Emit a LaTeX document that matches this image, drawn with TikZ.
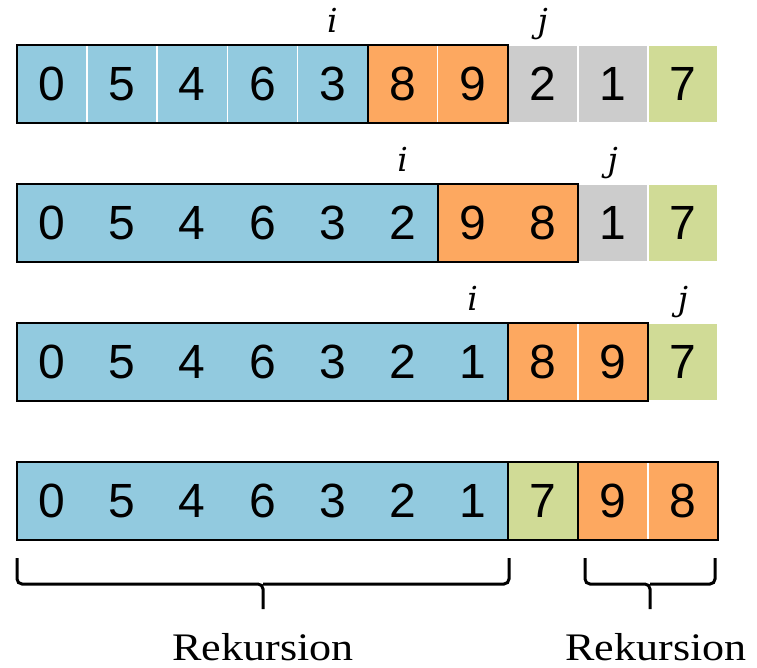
\documentclass[tikz,border=0pt]{standalone}
\usepackage{fontspec}
\newfontfamily\digitfont{Liberation Sans}
\newfontfamily\ptrfont{DejaVu Serif}
\newfontfamily\labelfont{Liberation Serif}
\definecolor{cbl}{RGB}{146,202,223}
\definecolor{cor}{RGB}{253,168,96}
\definecolor{cgr}{RGB}{204,204,204}
\definecolor{cgn}{RGB}{208,219,150}
\begin{document}
\begin{tikzpicture}[x=1pt,y=-1pt,
  cell/.style={rectangle,minimum width=70.1pt,minimum height=78pt,inner sep=0pt,
    outer sep=0pt,line width=1.6pt,font=\digitfont\fontsize{48}{48}\selectfont},
  frame/.style={draw=black,line width=2pt},
  ptr/.style={anchor=base,inner sep=0pt,font=\ptrfont\itshape\fontsize{33}{33}\selectfont},
  bracepath/.style={draw=black,line width=3pt,rounded corners=5pt},
  reclabel/.style={anchor=base,inner sep=0pt,font=\labelfont\fontsize{39}{39}\selectfont}]
\useasboundingbox (0,0) rectangle (757,667);

% row 1
\foreach \v/\c/\d [count=\k] in {0/cbl/white,5/cbl/white,4/cbl/white,6/cbl/white,3/cbl/white,
  8/cor/white,9/cor/white,2/cgr/white,1/cgr/white,7/cgn/white}
  \node[cell,fill=\c,draw=\d] (r1c\k) at ({17+(\k-0.5)*70.1},84) {\v};
\draw[frame] (r1c1.north west) rectangle (r1c5.south east);
\draw[frame] (r1c6.north west) rectangle (r1c7.south east);
\node[ptr] (i1) at (r1c5.north) [yshift=13pt] {i};
\node[ptr] (j1) at (r1c8.north) [yshift=13pt] {j};

% row 2
\foreach \v/\c/\d [count=\k] in {0/cbl/none,5/cbl/none,4/cbl/none,6/cbl/none,3/cbl/none,
  2/cbl/none,9/cor/none,8/cor/none,1/cgr/white,7/cgn/white}
  \node[cell,fill=\c,draw=\d] (r2c\k) at ({17+(\k-0.5)*70.1},223) {\v};
\draw[frame] (r2c1.north west) rectangle (r2c6.south east);
\draw[frame] (r2c7.north west) rectangle (r2c8.south east);
\node[ptr] (i2) at (r2c6.north) [yshift=13pt] {i};
\node[ptr] (j2) at (r2c9.north) [yshift=13pt] {j};

% row 3
\foreach \v/\c/\d [count=\k] in {0/cbl/none,5/cbl/none,4/cbl/none,6/cbl/none,3/cbl/none,
  2/cbl/none,1/cbl/none,8/cor/white,9/cor/white,7/cgn/white}
  \node[cell,fill=\c,draw=\d] (r3c\k) at ({17+(\k-0.5)*70.1},362) {\v};
\draw[frame] (r3c1.north west) rectangle (r3c7.south east);
\draw[frame] (r3c8.north west) rectangle (r3c9.south east);
\node[ptr] (i3) at (r3c7.north) [yshift=13pt] {i};
\node[ptr] (j3) at (r3c10.north) [yshift=13pt] {j};

% row 4
\foreach \v/\c/\d [count=\k] in {0/cbl/none,5/cbl/none,4/cbl/none,6/cbl/none,3/cbl/none,
  2/cbl/none,1/cbl/none,7/cgn/none,9/cor/white,8/cor/white}
  \node[cell,fill=\c,draw=\d] (r4c\k) at ({17+(\k-0.5)*70.1},501) {\v};
\draw[frame] (r4c1.north west) rectangle (r4c7.south east);
\draw[frame] (r4c8.north west) rectangle (r4c8.south east);
\draw[frame] (r4c9.north west) rectangle (r4c10.south east);

% braces under the two sub-arrays
\draw[bracepath] (17,558) -- (17,584) -- (263,584) -- (263,609);
\draw[bracepath] (509,558) -- (509,584) -- (263,584);
\draw[bracepath] (585,558) -- (585,584) -- (650,584) -- (650,609);
\draw[bracepath] (715,558) -- (715,584) -- (650,584);

\node[reclabel] (rec1) at (263,660) {\scalebox{1.13}[1]{Rekursion}};
\node[reclabel] (rec2) at (656,660) {\scalebox{1.13}[1]{Rekursion}};
\end{tikzpicture}
\end{document}
